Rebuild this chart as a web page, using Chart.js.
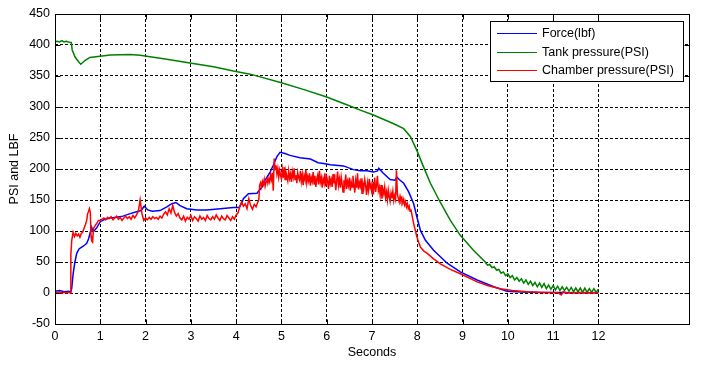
<!DOCTYPE html>
<html>
<head>
<meta charset="utf-8">
<script src="https://cdn.jsdelivr.net/npm/chart.js@4.4.0/dist/chart.umd.min.js"></script>
<style>
  html, body { margin: 0; padding: 0; background: #fff; }
  #wrap { width: 710px; height: 365px; }
</style>
</head>
<body>
<div id="wrap"><canvas id="chart" width="710" height="365"></canvas></div>
<script>
// values (seconds / PSI or lbf)
const xTicks = [0, 1, 2, 3, 4, 5, 6, 7, 8, 9, 10, 11, 12];
const yTicks = [-50, 0, 50, 100, 150, 200, 250, 300, 350, 400, 450];

const forceTime = [
  0, 0.1, 0.2, 0.3, 0.35, 0.37, 0.4, 0.44, 0.48, 0.53,
  0.59, 0.65, 0.7, 0.74, 0.78, 0.81, 0.83, 0.86, 0.92, 1.0,
  1.1, 1.22, 1.36, 1.5, 1.66, 1.8, 1.9, 1.97, 2.05, 2.15,
  2.32, 2.47, 2.58, 2.67, 2.76, 2.91, 3.13, 3.35, 3.65, 3.94,
  4.07, 4.12, 4.16, 4.27, 4.46, 4.57, 4.64, 4.75, 4.82, 4.9,
  4.97, 5.08, 5.19, 5.41, 5.64, 5.81, 5.93, 6.08, 6.37, 6.59,
  6.74, 6.89, 7.03, 7.12, 7.15, 7.25, 7.4, 7.51, 7.55, 7.6,
  7.7, 7.81, 7.92, 7.99, 8.07, 8.18, 8.36, 8.66, 8.95, 9.32,
  9.69, 9.98, 10.3, 10.7, 11.2, 11.6, 12.0
];
const forceLbf = [
  3, 4, 2, 3, 2, 8, 31, 50, 64, 71,
  74, 77, 80, 87, 98, 106, 101, 100, 105, 115,
  119, 121, 122, 124, 128, 131, 133, 140, 134, 132,
  133, 139, 144, 146, 141, 136, 134, 134, 136, 138,
  138, 145, 152, 160, 161, 171, 182, 195, 206, 220,
  227, 225, 222, 218, 216, 210, 209, 207, 205, 199,
  197, 197, 195, 197, 201, 193, 183, 182, 187, 183,
  177, 163, 144, 123, 101, 85, 69, 48, 34, 21,
  10, 3, 1.5, 1, 1, 0.5, 0.5
];

const tankTime = [
  0, 0.05, 0.1, 0.15, 0.2, 0.25, 0.3, 0.36, 0.38, 0.44,
  0.52, 0.57, 0.66, 0.77, 0.99, 1.22, 1.66, 1.88, 2.1, 2.47,
  2.98, 3.5, 3.94, 4.31, 5.0, 5.5, 6.0, 6.5, 6.74, 7.03,
  7.48, 7.7, 7.85, 7.99, 8.14, 8.29, 8.51, 8.73, 8.95, 9.24,
  9.5, 9.55, 9.6, 9.65, 9.7, 9.75, 9.8, 9.85, 9.9, 9.95,
  10.0, 10.05, 10.1, 10.15, 10.2, 10.25, 10.3, 10.35, 10.4, 10.45,
  10.5, 10.55, 10.6, 10.65, 10.7, 10.75, 10.8, 10.85, 10.9, 10.95,
  11.0, 11.05, 11.1, 11.15, 11.2, 11.25, 11.3, 11.35, 11.4, 11.45,
  11.5, 11.55, 11.6, 11.65, 11.7, 11.75, 11.8, 11.85, 11.9, 11.95,
  12.0
];
const tankPsi = [
  405, 406, 405, 407, 405, 406, 405, 404, 392, 381,
  373, 369, 375, 380, 382, 384, 384.5, 383.5, 381, 377,
  371, 365, 358, 353, 339, 328, 316, 302, 295, 287,
  273, 265, 252, 230, 203, 177, 146, 117, 93, 69,
  50, 45, 46, 41, 42, 37, 38, 32, 34, 28,
  31, 25, 28, 21, 25, 19, 23, 16, 21, 14,
  19, 12, 17, 10, 16, 9, 15, 7, 13, 6,
  12, 5, 11, 4, 10, 4, 9, 3, 9, 2,
  8, 2, 8, 1, 8, 1, 7, 1, 7, 1,
  6
];

// chamber pressure: ignition transient, noisy burn, tail-off
const chamberStartTime = [
  0, 0.05, 0.1, 0.15, 0.2, 0.25, 0.3, 0.34, 0.35, 0.37,
  0.4, 0.43, 0.46, 0.49, 0.52, 0.55, 0.58, 0.61, 0.64, 0.67,
  0.7, 0.72, 0.74, 0.76, 0.78, 0.795, 0.81, 0.83, 0.85, 0.88,
  0.92, 0.96
];
const chamberStartPsi = [
  1, 0, 2, 0, 1, 0, 1, 0, 62, 85,
  98, 91, 96, 92, 95, 90, 96, 98, 104, 110,
  117, 128, 131, 136, 130, 92, 84, 82, 104, 108,
  112, 117
];
// 1.00 s .. 4.48 s, one sample every 0.04 s
const chamberBurnAStart = 1.0;
const chamberBurnAStep = 0.04;
const chamberBurnAPsi = [
  117, 119, 121, 118, 122, 120, 123, 118, 121, 124,
  119, 122, 117, 121, 124, 120, 123, 119, 125, 121,
  126, 132, 150, 128, 117, 121, 118, 122, 119, 123,
  120, 122, 119, 124, 121, 127, 131, 126, 136, 129,
  141, 130, 124, 128, 121, 118, 124, 116, 122, 119,
  125, 117, 123, 120, 116, 124, 119, 122, 117, 125,
  120, 118, 123, 119, 126, 121, 117, 124, 120, 118,
  125, 121, 117, 123, 119, 126, 129, 139, 147, 140,
  144, 136, 152, 141, 135, 143, 139, 147
];
// 4.50 s .. 7.88 s, one sample every 0.02 s
const chamberBurnBStart = 4.5;
const chamberBurnBStep = 0.02;
const chamberBurnBPsi = [
  150, 174, 178, 171, 180, 175, 183, 172, 179, 186,
  177, 184, 179, 191, 183, 194, 165, 217, 199, 206,
  192, 201, 187, 198, 190, 184, 199, 186, 203, 183,
  195, 188, 181, 197, 185, 192, 179, 196, 187, 201,
  183, 190, 177, 194, 186, 182, 197, 180, 191, 174,
  189, 183, 199, 178, 188, 181, 193, 173, 186, 180,
  195, 176, 189, 171, 184, 190, 175, 197, 179, 186,
  170, 184, 178, 193, 172, 187, 180, 168, 189, 176,
  183, 171, 192, 177, 185, 166, 181, 196, 174, 184,
  170, 187, 176, 163, 182, 174, 191, 168, 180, 173,
  186, 165, 179, 171, 189, 174, 162, 181, 170, 193,
  167, 178, 172, 185, 161, 176, 169, 183, 173, 158,
  177, 166, 184, 170, 175, 160, 179, 168, 186, 163,
  174, 189, 165, 171, 158, 174, 152, 167, 160, 171,
  154, 163, 150, 166, 156, 148, 161, 153, 164, 149,
  157, 151, 198, 160, 153, 147, 156, 149, 153, 145,
  151, 142, 147, 139, 144, 136, 140, 132, 135, 127
];
const chamberTailTime = [
  7.92, 7.96, 7.99, 8.03, 8.07, 8.14, 8.22, 8.36, 8.51, 8.73,
  8.95, 9.15, 9.32, 9.55, 9.83, 10.1, 10.42, 10.8, 11.1, 11.18,
  11.22, 11.3, 11.6, 12.0
];
const chamberTailPsi = [
  112, 100, 91, 82, 74, 68, 64, 55, 47, 38,
  31, 24, 18, 12, 7, 4, 2, 1, 0.5, -3,
  2, 0, 1, 0.5
];

const FONT = { family: "'Liberation Sans', Arial, sans-serif", size: 12.5 };

const toPoints = (xs, ys) => xs.map((x, i) => ({ x: x, y: ys[i] }));
const sampleTimes = (start, step, vals) => vals.map((_, i) => +(start + i * step).toFixed(2));

const chamberTime = chamberStartTime
  .concat(sampleTimes(chamberBurnAStart, chamberBurnAStep, chamberBurnAPsi))
  .concat(sampleTimes(chamberBurnBStart, chamberBurnBStep, chamberBurnBPsi))
  .concat(chamberTailTime);
const chamberPsi = chamberStartPsi
  .concat(chamberBurnAPsi)
  .concat(chamberBurnBPsi)
  .concat(chamberTailPsi);

// solid box round the axes, with inward tick marks like the original
const framePlugin = {
  id: "frame",
  afterDraw(chart) {
    const { ctx, chartArea: a, scales } = chart;
    const L = Math.round(a.left) + 0.5, R = Math.round(a.right) + 0.5;
    const T = Math.round(a.top) + 0.5, B = Math.round(a.bottom) + 0.5;
    ctx.save();
    ctx.setLineDash([]);
    ctx.strokeStyle = "#000";
    ctx.lineWidth = 1;
    ctx.strokeRect(L, T, R - L, B - T);
    ctx.beginPath();
    scales.x.ticks.forEach((t) => {
      const px = Math.round(scales.x.getPixelForValue(t.value)) + 0.5;
      ctx.moveTo(px, B); ctx.lineTo(px, B - 5);
      ctx.moveTo(px, T); ctx.lineTo(px, T + 5);
    });
    scales.y.ticks.forEach((t) => {
      const py = Math.round(scales.y.getPixelForValue(t.value)) + 0.5;
      ctx.moveTo(L, py); ctx.lineTo(L + 5, py);
      ctx.moveTo(R, py); ctx.lineTo(R - 5, py);
    });
    ctx.stroke();
    ctx.restore();
  },
};

// boxed legend in the top right corner of the plot
const legendBox = {
  id: "legendBox",
  afterDraw(chart) {
    const { ctx, chartArea: a } = chart;
    const w = 193, h = 60, rowH = 18.7;
    const x0 = Math.round(a.right) - 6 - w;
    const y0 = Math.round(a.top) + 7;
    ctx.save();
    ctx.fillStyle = "#fff";
    ctx.fillRect(x0, y0, w, h);
    ctx.strokeStyle = "#000";
    ctx.lineWidth = 1;
    ctx.setLineDash([]);
    ctx.strokeRect(x0 + 0.5, y0 + 0.5, w, h);
    ctx.font = FONT.size + "px " + FONT.family;
    ctx.textBaseline = "middle";
    chart.data.datasets.forEach((ds, i) => {
      const y = Math.round(y0 + 12 + i * rowH) + 0.5;
      ctx.strokeStyle = ds.borderColor;
      ctx.beginPath();
      ctx.moveTo(x0 + 7, y);
      ctx.lineTo(x0 + 47, y);
      ctx.stroke();
      ctx.fillStyle = "#000";
      ctx.fillText(ds.label, x0 + 52, y);
    });
    ctx.restore();
  },
};

const ctx = document.getElementById("chart").getContext("2d");
new Chart(ctx, {
  type: "line",
  data: {
    datasets: [
      {
        label: "Force(lbf)",
        data: toPoints(forceTime, forceLbf),
        borderColor: "#0000ff",
        borderWidth: 1.5,
        order: 3,
      },
      {
        label: "Tank pressure(PSI)",
        data: toPoints(tankTime, tankPsi),
        borderColor: "#008000",
        borderWidth: 1.5,
        order: 2,
      },
      {
        label: "Chamber pressure(PSI)",
        data: toPoints(chamberTime, chamberPsi),
        borderColor: "#ff0000",
        borderWidth: 1.5,
        order: 1,
      },
    ],
  },
  options: {
    responsive: false,
    animation: false,
    devicePixelRatio: 1,
    layout: { padding: { top: 14, right: 21, left: 0, bottom: 0 } },
    elements: { point: { radius: 0 }, line: { tension: 0, fill: false } },
    plugins: { legend: { display: false }, tooltip: { enabled: false } },
    scales: {
      x: {
        type: "linear",
        min: 0,
        max: 14,
        afterBuildTicks: (s) => {
          s.ticks = xTicks.map((v) => ({ value: v }));
        },
        afterFit: (s) => {
          s.height = 41;
        },
        ticks: { color: "#000", font: FONT, padding: 5, maxRotation: 0, autoSkip: false },
        grid: { color: "#000", lineWidth: 1, drawTicks: false },
        border: { display: false, dash: [3, 2] },
        title: { display: true, text: "Seconds", color: "#000", font: FONT, padding: { top: 0, bottom: 5 } },
      },
      y: {
        type: "linear",
        min: -50,
        max: 450,
        afterBuildTicks: (s) => {
          s.ticks = yTicks.map((v) => ({ value: v }));
        },
        afterFit: (s) => {
          s.width = 55;
        },
        ticks: { color: "#000", font: FONT, padding: 5 },
        grid: { color: "#000", lineWidth: 1, drawTicks: false },
        border: { display: false, dash: [3, 2] },
        title: { display: true, text: "PSI and LBF", color: "#000", font: FONT, padding: { top: 7, bottom: 0 } },
      },
    },
  },
  plugins: [framePlugin, legendBox],
});
</script>
</body>
</html>
